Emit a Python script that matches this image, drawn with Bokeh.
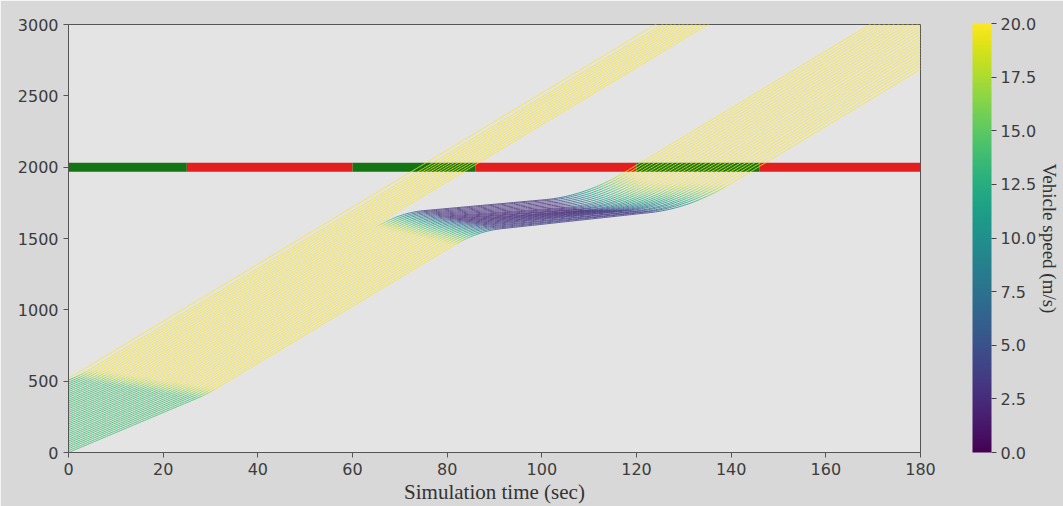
import numpy as np
from bokeh.plotting import figure
from bokeh.models import (ColumnDataSource, LinearColorMapper, ColorBar, FixedTicker,
                          PrintfTickFormatter, Range1d, LinearAxis)
from bokeh.palettes import Viridis256
from bokeh.embed import file_html
from bokeh.resources import INLINE

# ---------------- values ----------------
time_ticks = [0, 20, 40, 60, 80, 100, 120, 140, 160, 180]
pos_ticks = [0, 500, 1000, 1500, 2000, 2500, 3000]
speed_ticks = [0.0, 2.5, 5.0, 7.5, 10.0, 12.5, 15.0, 17.5, 20.0]

# signal at the stop line (position 2000 m)
stop_line_pos = 2000
signal_start = [0, 25, 60, 86, 120, 146]
signal_end = [25, 60, 86, 120, 146, 180]
signal_color = ["#127512", "#e41d1d", "#127512", "#e41d1d", "#127512", "#e41d1d"]

# platoon at t = 0 (top vehicle first)
init_pos = [520, 507, 493, 480, 467, 453, 440, 427, 413, 400, 387, 373, 360, 347,
            333, 320, 307, 293, 280, 267, 253, 240, 227, 213, 200, 187, 173, 160,
            147, 133, 120, 107, 93, 80, 67, 53, 40, 27, 13, 0]
start_speed = [20, 14, 14, 14, 14, 14, 14, 14, 14, 14, 14, 14, 14, 14, 14, 14, 14, 14,
               14, 14, 14, 14, 14, 14, 14, 14, 14, 14, 14, 14, 14, 14, 14, 14, 14, 14,
               14, 14, 14, 14]
hold_end = [0.1, 0.7, 1.4, 2.1, 2.8, 3.5, 4.2, 4.9, 5.6, 6.3, 7.0, 7.7, 8.4, 9.1,
            9.8, 10.5, 11.2, 11.9, 12.6, 13.3, 14.0, 14.7, 15.4, 16.1, 16.8, 17.5,
            18.2, 18.9, 19.6, 20.3, 21.0, 21.7, 22.4, 23.1, 23.8, 24.5, 25.2, 25.9,
            26.6, 27.3]
start_accel_dur = 4
cruise_speed = 20

# vehicles held by the red phase (indices 13..39)
slow_ids = list(range(13, 40))
decel_start_pos = [1580, 1575, 1570, 1565, 1560, 1555, 1550, 1545, 1540, 1535, 1530,
                   1525, 1520, 1515, 1510, 1505, 1500, 1495, 1490, 1485, 1480, 1475,
                   1470, 1465, 1460, 1455, 1450]
slow_speed = [3.0, 3.0, 2.9, 2.8, 2.7, 2.6, 2.5, 2.4, 2.4, 2.4, 2.4, 2.5, 2.5, 2.6,
              2.7, 2.8, 2.9, 3.0, 3.1, 3.2, 3.3, 3.4, 3.4, 3.5, 3.5, 3.6, 3.6]
cross_time = [119.3, 120.3, 121.3, 122.3, 123.3, 124.3, 125.3, 126.3, 127.3, 128.3,
              129.3, 130.3, 131.3, 132.3, 133.3, 134.4, 135.4, 136.4, 137.4, 138.4,
              139.4, 140.5, 141.5, 142.5, 143.5, 144.6, 145.7]
decel_dur = 10
accel_dur = 17

# ---------------- trajectories ----------------
dt = 0.5
t = np.arange(0, 180 + dt / 2, dt)


def integrate(p0, kt, kv):
    v = np.interp(t, kt, kv)
    x = p0 + np.concatenate([[0.0], np.cumsum(0.5 * (v[1:] + v[:-1]) * dt)])
    return x, v


seg = dict(x0=[], y0=[], x1=[], y1=[], v=[])
for i in range(len(init_pos)):
    base_t = [0, hold_end[i], hold_end[i] + start_accel_dur]
    base_v = [start_speed[i], start_speed[i], cruise_speed]
    x, v = integrate(init_pos[i], base_t + [400], base_v + [cruise_speed])
    if i in slow_ids:
        k = slow_ids.index(i)
        td = float(np.interp(decel_start_pos[k], x, t))
        vs = slow_speed[k]

        def traj(ta):
            kt = base_t + [td, td + decel_dur, ta, ta + accel_dur, 400]
            kv = base_v + [cruise_speed, vs, vs, cruise_speed, cruise_speed]
            return integrate(init_pos[i], kt, kv)

        lo, hi = td + decel_dur + 0.01, 178.0
        for _ in range(50):
            mid = 0.5 * (lo + hi)
            xm, _ = traj(mid)
            if np.interp(cross_time[k], t, xm) > stop_line_pos:
                lo = mid
            else:
                hi = mid
        x, v = traj(0.5 * (lo + hi))
    m = x[:-1] <= 3060
    seg["x0"] += list(t[:-1][m])
    seg["x1"] += list(t[1:][m])
    seg["y0"] += list(x[:-1][m])
    seg["y1"] += list(x[1:][m])
    seg["v"] += list((0.5 * (v[:-1] + v[1:]))[m])

src = ColumnDataSource(seg)
sig = ColumnDataSource(dict(x0=signal_start, x1=signal_end,
                            y=[stop_line_pos] * len(signal_start), c=signal_color))

# ---------------- figure ----------------
p = figure(width=1063, height=506, x_range=Range1d(0, 180), y_range=Range1d(0, 3000),
           output_backend="svg", toolbar_location=None,
           min_border_left=68, min_border_top=24, min_border_bottom=53, min_border_right=143)
p.background_fill_color = "#e4e4e4"
p.border_fill_color = "#d8d8d8"
p.outline_line_color = "#555555"
p.grid.visible = False

p.segment(x0="x0", y0="y", x1="x1", y1="y", color="c", line_width=9, source=sig)
mapper = LinearColorMapper(palette=Viridis256, low=0, high=20)
p.segment(x0="x0", y0="y0", x1="x1", y1="y1", source=src, line_width=1, line_alpha=0.8,
          line_color={"field": "v", "transform": mapper})

for ax in (p.xaxis[0], p.yaxis[0]):
    ax.axis_line_color = "#555555"
    ax.major_tick_line_color = "#555555"
    ax.minor_tick_line_color = None
    ax.major_tick_out = 5
    ax.major_tick_in = 0
    ax.major_label_text_font = "DejaVu Sans"
    ax.major_label_text_font_size = "16px"
    ax.major_label_text_color = "#3c3c3c"
p.xaxis.ticker = FixedTicker(ticks=time_ticks)
p.yaxis.ticker = FixedTicker(ticks=pos_ticks)
p.xaxis.axis_label = "Simulation time (sec)"
p.xaxis.axis_label_text_font = "Liberation Serif"
p.xaxis.axis_label_text_font_size = "21px"
p.xaxis.axis_label_text_font_style = "normal"
p.xaxis.axis_label_text_color = "#333333"
p.xaxis.axis_label_standoff = 2

cb = ColorBar(color_mapper=mapper, ticker=FixedTicker(ticks=speed_ticks),
              formatter=PrintfTickFormatter(format="%.1f"), width=19, height=429,
              location=(904, 0), padding=0, margin=0, major_tick_in=0, major_tick_out=5,
              major_tick_line_color="#444444", bar_line_color=None,
              background_fill_alpha=0, border_line_color=None, label_standoff=4,
              major_label_text_font="DejaVu Sans", major_label_text_font_size="16px",
              major_label_text_color="#3c3c3c")
p.add_layout(cb, "center")

# colour-bar caption carried by a bare axis on the right side
cap = LinearAxis(ticker=FixedTicker(ticks=[]), axis_line_color=None,
                 major_tick_line_color=None, minor_tick_line_color=None,
                 major_tick_out=0, major_tick_in=0,
                 axis_label="Vehicle speed (m/s)", axis_label_standoff=118,
                 axis_label_text_font="Liberation Serif", axis_label_text_font_size="19px",
                 axis_label_text_font_style="normal", axis_label_text_color="#333333")
p.add_layout(cap, "right")

open("out.html", "w").write(file_html(p, INLINE))
